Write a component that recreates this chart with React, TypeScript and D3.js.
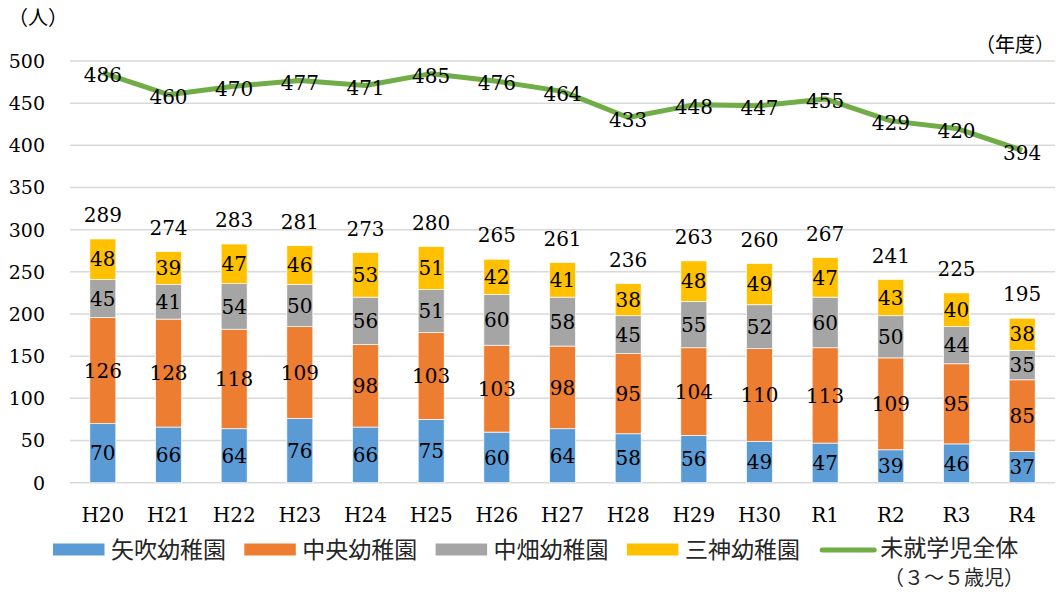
import { useEffect, useRef } from 'react';
import * as d3 from 'd3';

const years = ['H20', 'H21', 'H22', 'H23', 'H24', 'H25', 'H26', 'H27', 'H28', 'H29', 'H30', 'R1', 'R2', 'R3', 'R4'];
const yabuki = [70, 66, 64, 76, 66, 75, 60, 64, 58, 56, 49, 47, 39, 46, 37];
const chuo = [126, 128, 118, 109, 98, 103, 103, 98, 95, 104, 110, 113, 109, 95, 85];
const nakahata = [45, 41, 54, 50, 56, 51, 60, 58, 45, 55, 52, 60, 50, 44, 35];
const mikami = [48, 39, 47, 46, 53, 51, 42, 41, 38, 48, 49, 47, 43, 40, 38];
const preschoolTotal = [486, 460, 470, 477, 471, 485, 476, 464, 433, 448, 447, 455, 429, 420, 394];
const yTicks = [0, 50, 100, 150, 200, 250, 300, 350, 400, 450, 500];

const seriesNames = ['矢吹幼稚園', '中央幼稚園', '中畑幼稚園', '三神幼稚園'];
const lineName = '未就学児全体';
const lineNameSub = '（３～５歳児）';

const NUM_FONT = '"DejaVu Serif", serif';
const JP_FONT = '"Noto Sans CJK JP", sans-serif';

export default function App() {
    const svgRef = useRef<SVGSVGElement>(null);

    useEffect(() => {
        const svg = d3.select(svgRef.current);
        svg.selectAll('*').remove();

        const width = 1060;
        const height = 592;
        const left = 70;
        const right = 1055;

        const colors = ['#5B9BD5', '#ED7D31', '#A5A5A5', '#FFC000'];
        const lineColor = '#70AD47';

        const x = d3.scaleBand().domain(years).range([left, right]).paddingInner(0.604).paddingOuter(0.302);
        const y = d3.scaleLinear().domain([0, 500]).range([482.7, 61]);

        svg.attr('width', width).attr('height', height);

        // gridlines
        svg.append('g')
            .selectAll('line')
            .data(yTicks)
            .enter()
            .append('line')
            .attr('x1', left)
            .attr('x2', right)
            .attr('y1', (d) => y(d))
            .attr('y2', (d) => y(d))
            .attr('stroke', '#D9D9D9')
            .attr('stroke-width', 1.5);

        // y tick labels
        svg.append('g')
            .selectAll('text')
            .data(yTicks)
            .enter()
            .append('text')
            .attr('x', 45)
            .attr('y', (d) => y(d))
            .attr('dy', '0.36em')
            .attr('text-anchor', 'end')
            .style('font-family', NUM_FONT)
            .style('font-size', '19px')
            .attr('fill', '#000')
            .text((d) => d);

        // x labels
        svg.append('g')
            .selectAll('text')
            .data(years)
            .enter()
            .append('text')
            .attr('x', (d) => x(d)! + x.bandwidth() / 2)
            .attr('y', 515)
            .attr('dy', '0.36em')
            .attr('text-anchor', 'middle')
            .style('font-family', NUM_FONT)
            .style('font-size', '20px')
            .attr('fill', '#000')
            .text((d) => d);

        // stacked data
        const table = years.map((yr, i) => ({
            year: yr,
            s0: yabuki[i],
            s1: chuo[i],
            s2: nakahata[i],
            s3: mikami[i],
        }));
        const stack = d3.stack<any>().keys(['s0', 's1', 's2', 's3'])(table);

        stack.forEach((layer, li) => {
            const g = svg.append('g');
            g.selectAll('rect')
                .data(layer)
                .enter()
                .append('rect')
                .attr('x', (d) => x(d.data.year)!)
                .attr('width', x.bandwidth())
                .attr('y', (d) => y(d[1]))
                .attr('height', (d) => y(d[0]) - y(d[1]))
                .attr('fill', colors[li])
                .attr('stroke', '#fff')
                .attr('stroke-width', 0.7);
            g.selectAll('text')
                .data(layer)
                .enter()
                .append('text')
                .attr('x', (d) => x(d.data.year)! + x.bandwidth() / 2)
                .attr('y', (d) => y((d[0] + d[1]) / 2))
                .attr('dy', '0.36em')
                .attr('text-anchor', 'middle')
                .style('font-family', NUM_FONT)
                .style('font-size', '20px')
                .attr('fill', '#000')
                .text((d) => d[1] - d[0]);
        });

        // totals above bars
        const totals = years.map((_, i) => yabuki[i] + chuo[i] + nakahata[i] + mikami[i]);
        svg.append('g')
            .selectAll('text')
            .data(totals)
            .enter()
            .append('text')
            .attr('x', (_, i) => x(years[i])! + x.bandwidth() / 2)
            .attr('y', (d) => y(d) - 24)
            .attr('dy', '0.36em')
            .attr('text-anchor', 'middle')
            .style('font-family', NUM_FONT)
            .style('font-size', '20px')
            .attr('fill', '#000')
            .text((d) => d);

        // line
        const line = d3
            .line<number>()
            .x((_, i) => x(years[i])! + x.bandwidth() / 2)
            .y((d) => y(d));
        svg.append('path')
            .datum(preschoolTotal)
            .attr('d', line)
            .attr('fill', 'none')
            .attr('stroke', lineColor)
            .attr('stroke-width', 5)
            .attr('stroke-linejoin', 'round');

        svg.append('g')
            .selectAll('text')
            .data(preschoolTotal)
            .enter()
            .append('text')
            .attr('x', (_, i) => x(years[i])! + x.bandwidth() / 2)
            .attr('y', (d) => y(d) + 2)
            .attr('dy', '0.36em')
            .attr('text-anchor', 'middle')
            .style('font-family', NUM_FONT)
            .style('font-size', '20px')
            .attr('fill', '#000')
            .text((d) => d);

        // unit labels
        svg.append('text')
            .attr('x', 8)
            .attr('y', 18)
            .attr('dy', '0.36em')
            .style('font-family', JP_FONT)
            .style('font-size', '20px')
            .attr('fill', '#000')
            .text('（人）');
        svg.append('text')
            .attr('x', 1055)
            .attr('y', 45)
            .attr('dy', '0.36em')
            .attr('text-anchor', 'end')
            .style('font-family', JP_FONT)
            .style('font-size', '20px')
            .attr('fill', '#000')
            .text('（年度）');

        // legend
        const legend = svg.append('g');
        const step = 191.3;
        seriesNames.forEach((name, i) => {
            const lx = 53 + i * step;
            legend.append('rect')
                .attr('x', lx)
                .attr('y', 543.5)
                .attr('width', 51.5)
                .attr('height', 12)
                .attr('fill', colors[i]);
            legend.append('text')
                .attr('x', lx + 58)
                .attr('y', 549.5)
                .attr('dy', '0.36em')
                .style('font-family', JP_FONT)
                .style('font-size', '23px')
                .attr('fill', '#262626')
                .text(name);
        });
        const llx = 53 + 4 * step + 2;
        legend.append('line')
            .attr('x1', llx + 2)
            .attr('x2', llx + 54)
            .attr('y1', 550)
            .attr('y2', 550)
            .attr('stroke', lineColor)
            .attr('stroke-width', 5)
            .attr('stroke-linecap', 'round');
        legend.append('text')
            .attr('x', llx + 60)
            .attr('y', 548)
            .attr('dy', '0.36em')
            .style('font-family', JP_FONT)
            .style('font-size', '23px')
            .attr('fill', '#262626')
            .text(lineName);
        legend.append('text')
            .attr('x', 884)
            .attr('y', 578)
            .attr('dy', '0.36em')
            .style('font-family', JP_FONT)
            .style('font-size', '20px')
            .attr('fill', '#262626')
            .text(lineNameSub);
    }, []);

    return (
        <div style={{ position: 'absolute', left: 0, top: 0 }}>
            <svg ref={svgRef} style={{ display: 'block' }}></svg>
        </div>
    );
}
